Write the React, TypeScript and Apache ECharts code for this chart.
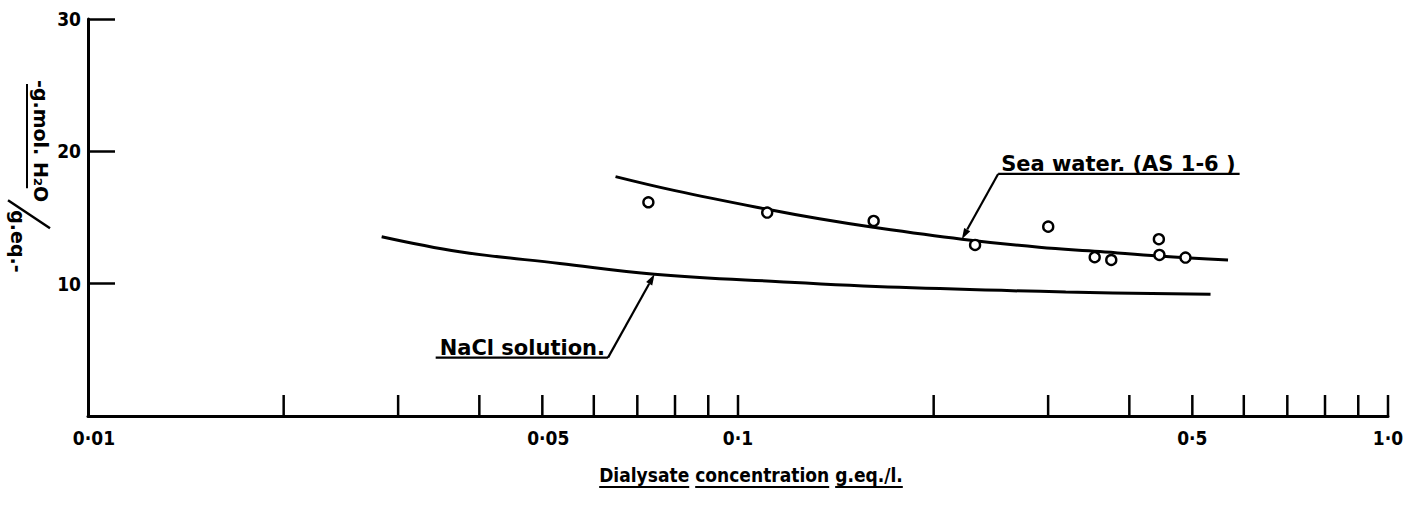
import React, { useEffect, useRef } from "react";
import * as echarts from "echarts";

const FONT = '"DejaVu Sans Condensed", "DejaVu Sans", sans-serif';
const FONT_WIDE = '"DejaVu Sans", sans-serif';

// ---- axis ticks and labels ----
const xTickValues = [0.02, 0.03, 0.04, 0.05, 0.06, 0.07, 0.08, 0.09, 0.1, 0.2, 0.3, 0.4, 0.5, 0.6, 0.7, 0.8, 0.9, 1.0];
const xLabelValues = [0.01, 0.05, 0.1, 0.5, 1.0];
const xLabelTexts = ["0·01", "0·05", "0·1", "0·5", "1·0"];
const yMin = 0;
const yMax = 30;
const yInterval = 10;

// ---- fitted curves ----
const seaWaterCurveX = [0.0648, 0.08, 0.1109, 0.1334, 0.1615, 0.221, 0.2905, 0.36, 0.444, 0.5674];
const seaWaterCurveY = [18.09, 17.03, 15.62, 14.9, 14.26, 13.36, 12.75, 12.43, 12.09, 11.79];
const naclCurveX = [0.0283, 0.0373, 0.0532, 0.0744, 0.1158, 0.1771, 0.3193, 0.5333];
const naclCurveY = [13.55, 12.42, 11.53, 10.72, 10.15, 9.72, 9.37, 9.2];

// ---- measured sea water points ----
const seaWaterPointX = [0.0728, 0.1109, 0.1617, 0.2316, 0.3001, 0.3538, 0.3752, 0.4441, 0.445, 0.488];
const seaWaterPointY = [16.15, 15.37, 14.74, 12.93, 14.31, 12.0, 11.79, 13.36, 12.17, 11.97];

// ---- annotations (arrow tip on curve, elbow of the leader) ----
const annotationTexts = ["Sea water. (AS 1-6 )", "NaCl solution."];
const annotationTipX = [0.221, 0.0744];
const annotationTipY = [13.36, 10.72];
const annotationElbowX = [0.2513, 0.0631];
const annotationElbowY = [18.29, 4.41];
const annotationSide = [1, -1];

// ---- axis titles ----
const xAxisTitleWords = ["Dialysate", "concentration", "g.eq./l."];
const yAxisNumerator = "-g.mol. H₂O";
const yAxisDenominator = "g.eq.-";

let measureCtx: CanvasRenderingContext2D | null = null;
function measure(text: string, font: string): number {
  if (!measureCtx) measureCtx = document.createElement("canvas").getContext("2d");
  if (!measureCtx) return text.length * 10;
  measureCtx.font = font;
  return measureCtx.measureText(text).width;
}

function textStyle(text: string, x: number, y: number, font: string, align: string, valign: string) {
  return {
    text,
    x,
    y,
    font,
    fill: "#000",
    textAlign: align,
    textVerticalAlign: valign,
    align,
    verticalAlign: valign,
  };
}

function buildOption() {
  const labelFont = `bold 19px ${FONT}`;
  const annFont = `bold 21px ${FONT_WIDE}`;
  const titleFont = `bold 19px ${FONT}`;
  const nameFont = `bold 19px ${FONT_WIDE}`;

  // x axis title with underlined words
  const space = measure(" ", titleFont);
  const wordWidths = xAxisTitleWords.map((w) => measure(w, titleFont));
  const total = wordWidths.reduce((a, b) => a + b, 0) + space * (xAxisTitleWords.length - 1);
  let cx = 751 - total / 2;
  const titleChildren: any[] = [];
  xAxisTitleWords.forEach((w, i) => {
    titleChildren.push({ type: "text", style: textStyle(w, cx, 475, titleFont, "left", "middle") });
    titleChildren.push({
      type: "line",
      shape: { x1: cx, y1: 487, x2: cx + wordWidths[i], y2: 487 },
      style: { stroke: "#000", lineWidth: 2 },
    });
    cx += wordWidths[i] + space;
  });

  const numW = measure(yAxisNumerator, nameFont);

  return {
    animation: false,
    backgroundColor: "#fff",
    tooltip: { show: false },
    grid: { left: 88, right: 18, top: 19, bottom: 97, containLabel: false },
    xAxis: {
      type: "log",
      logBase: 10,
      min: 0.01,
      max: 1,
      axisLine: { show: true, onZero: false, lineStyle: { color: "#000", width: 3 } },
      axisTick: { show: false },
      axisLabel: { show: false },
      splitLine: { show: false },
      minorTick: { show: false },
    },
    yAxis: {
      type: "value",
      min: yMin,
      max: yMax,
      interval: yInterval,
      axisLine: { show: true, onZero: false, lineStyle: { color: "#000", width: 3 } },
      axisTick: { show: true, inside: true, length: 27, lineStyle: { color: "#000", width: 2.5 } },
      axisLabel: {
        margin: 7,
        color: "#000",
        fontSize: 19,
        fontWeight: "bold",
        fontFamily: FONT,
        formatter: (v: number) => (v === 0 ? "" : String(v)),
      },
      splitLine: { show: false },
    },
    graphic: [
      {
        type: "group",
        x: 50,
        y: 80,
        rotation: -Math.PI / 2,
        children: [
          { type: "text", style: textStyle(yAxisNumerator, 0, 0, nameFont, "left", "top") },
          { type: "line", shape: { x1: 4, y1: 23, x2: numW - 14, y2: 23 }, style: { stroke: "#000", lineWidth: 2 } },
          { type: "line", shape: { x1: numW - 2, y1: 42, x2: numW + 26, y2: 0 }, style: { stroke: "#000", lineWidth: 2.5 } },
          { type: "text", style: textStyle(yAxisDenominator, numW + 8, 23, nameFont, "left", "top") },
        ],
      },
      { type: "group", children: titleChildren },
    ],
    series: [
      {
        name: "NaCl solution",
        type: "line",
        data: naclCurveX.map((x, i) => [x, naclCurveY[i]]),
        smooth: 0.4,
        symbol: "none",
        lineStyle: { color: "#000", width: 3 },
        z: 2,
      },
      {
        name: "Sea water curve",
        type: "line",
        data: seaWaterCurveX.map((x, i) => [x, seaWaterCurveY[i]]),
        smooth: 0.4,
        symbol: "none",
        lineStyle: { color: "#000", width: 3 },
        z: 2,
      },
      {
        name: "Sea water (AS 1-6)",
        type: "scatter",
        data: seaWaterPointX.map((x, i) => [x, seaWaterPointY[i]]),
        symbol: "circle",
        symbolSize: 10,
        itemStyle: { color: "#fff", borderColor: "#000", borderWidth: 2.4, opacity: 1 },
        z: 4,
      },
      {
        name: "x ticks",
        type: "custom",
        data: xTickValues.map((v) => [v, yMin]),
        renderItem: (params: any, api: any) => {
          const p = api.coord([api.value(0), api.value(1)]);
          return {
            type: "line",
            shape: { x1: p[0], y1: p[1], x2: p[0], y2: p[1] - 21 },
            style: { stroke: "#000", lineWidth: 2.5 },
          };
        },
        z: 3,
      },
      {
        name: "x labels",
        type: "custom",
        data: xLabelValues.map((v) => [v, yMin]),
        renderItem: (params: any, api: any) => {
          const i = params.dataIndex;
          const p = api.coord([api.value(0), api.value(1)]);
          const t = xLabelTexts[i];
          const k = t.indexOf("·");
          const off = measure(t.slice(0, k), labelFont) + measure("·", labelFont) / 2;
          return {
            type: "text",
            style: textStyle(t, p[0] - off, p[1] + 22, labelFont, "left", "middle"),
          };
        },
        z: 3,
      },
      {
        name: "annotations",
        type: "custom",
        data: annotationTexts.map((_, i) => [annotationTipX[i], annotationTipY[i], annotationElbowX[i], annotationElbowY[i]]),
        renderItem: (params: any, api: any) => {
          const i = params.dataIndex;
          const tip = api.coord([api.value(0), api.value(1)]);
          const elbow = api.coord([api.value(2), api.value(3)]);
          const text = annotationTexts[i];
          const side = annotationSide[i];
          const w = measure(text, annFont);
          const dx = tip[0] - elbow[0];
          const dy = tip[1] - elbow[1];
          const len = Math.hypot(dx, dy) || 1;
          const ux = dx / len;
          const uy = dy / len;
          const headLen = 11;
          const headHalf = 3.5;
          const bx = tip[0] - ux * headLen;
          const by = tip[1] - uy * headLen;
          return {
            type: "group",
            children: [
              {
                type: "line",
                shape: { x1: elbow[0], y1: elbow[1], x2: bx, y2: by },
                style: { stroke: "#000", lineWidth: 2.2 },
              },
              {
                type: "polygon",
                shape: {
                  points: [
                    [tip[0], tip[1]],
                    [bx - uy * headHalf, by + ux * headHalf],
                    [bx + uy * headHalf, by - ux * headHalf],
                  ],
                },
                style: { fill: "#000" },
              },
              {
                type: "line",
                shape: { x1: elbow[0], y1: elbow[1], x2: elbow[0] + side * (w + 7), y2: elbow[1] },
                style: { stroke: "#000", lineWidth: 2.2 },
              },
              {
                type: "text",
                style: textStyle(text, elbow[0] + side * 3, elbow[1] + 1, annFont, side > 0 ? "left" : "right", "bottom"),
              },
            ],
          };
        },
        z: 5,
      },
    ],
  };
}

export default function App() {
  const ref = useRef<HTMLDivElement>(null);
  useEffect(() => {
    if (!ref.current) return;
    const chart = echarts.init(ref.current, null, { renderer: "svg" });
    chart.setOption(buildOption() as any);
    return () => chart.dispose();
  }, []);
  return (
    <div
      ref={ref}
      style={{ position: "absolute", left: 0, top: 0, width: 1406, height: 513, background: "#fff" }}
    />
  );
}
